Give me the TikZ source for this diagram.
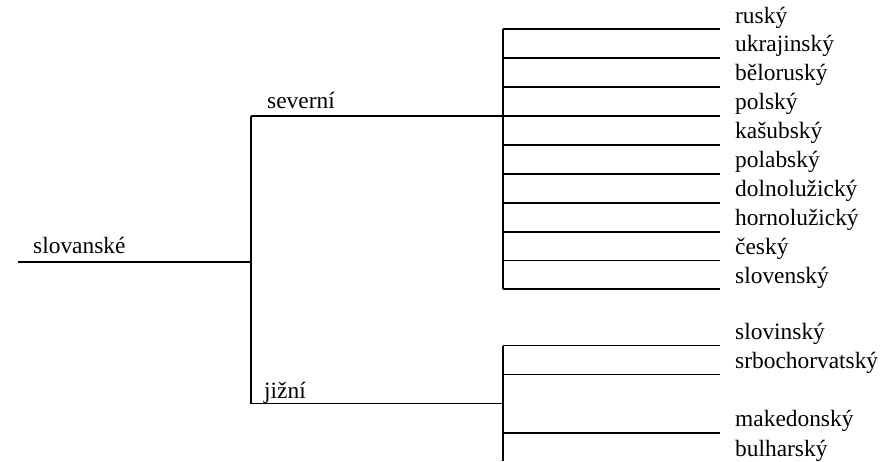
\documentclass[tikz,border=0pt]{standalone}
\usepackage{fontspec}
\setmainfont{Liberation Serif}
\begin{document}
\begin{tikzpicture}[x=1pt,y=-1pt,
  branch/.style={line width=1.8pt,black},
  lbl/.style={anchor=base west,inner sep=0pt,font=\fontsize{23.4}{27}\selectfont}]
\useasboundingbox (0,0) rectangle (892,461);
% root
\coordinate (root) at (18,261.7);
\coordinate (j0) at (251,261.7);
\coordinate (j0n) at (251,115.7);
\coordinate (j0s) at (251,403.5);
\node[lbl] (slov) at (33,253) {slovanské};
\draw[branch] (root) -- (j0);
\draw[branch] (j0n) -- (j0s);
% severni
\coordinate (nj) at (503,115.7);
\coordinate (ntop) at (503,29.3);
\coordinate (nbot) at (503,289.3);
\node[lbl] (sev) at (267,108) {severní};
\draw[branch] (j0n) -- (nj);
\draw[branch] (ntop) -- (nbot);
\foreach \y/\t/\n in {29.3/ruský/l1,58.2/ukrajinský/l2,87.1/běloruský/l3,115.7/polský/l4,144.9/kašubský/l5,173.8/polabský/l6,202.7/dolnolužický/l7,231.6/hornolužický/l8,260.5/český/l9,289.3/slovenský/l10}{
  \coordinate (\n s) at (503,\y);
  \coordinate (\n e) at (720,\y);
  \draw[branch] (\n s) -- (\n e);
  \node[lbl] (\n) at (735,\y-6.3) {\t};
}
% jizni
\coordinate (sj) at (503,403.5);
\coordinate (stop) at (503,345.5);
\coordinate (sbot) at (503,461);
\node[lbl] (jiz) at (264,398) {jižní};
\draw[branch] (j0s) -- (sj);
\draw[branch] (stop) -- (sbot);
\foreach \y/\t/\n in {345.5/slovinský/s1,374.5/srbochorvatský/s2,433.3/makedonský/s3}{
  \coordinate (\n s) at (503,\y);
  \coordinate (\n e) at (720,\y);
  \draw[branch] (\n s) -- (\n e);
  \node[lbl] (\n) at (735,\y-6.5) {\t};
}
\node[lbl] (s4) at (735,456.7) {bulharský};
\end{tikzpicture}
\end{document}
